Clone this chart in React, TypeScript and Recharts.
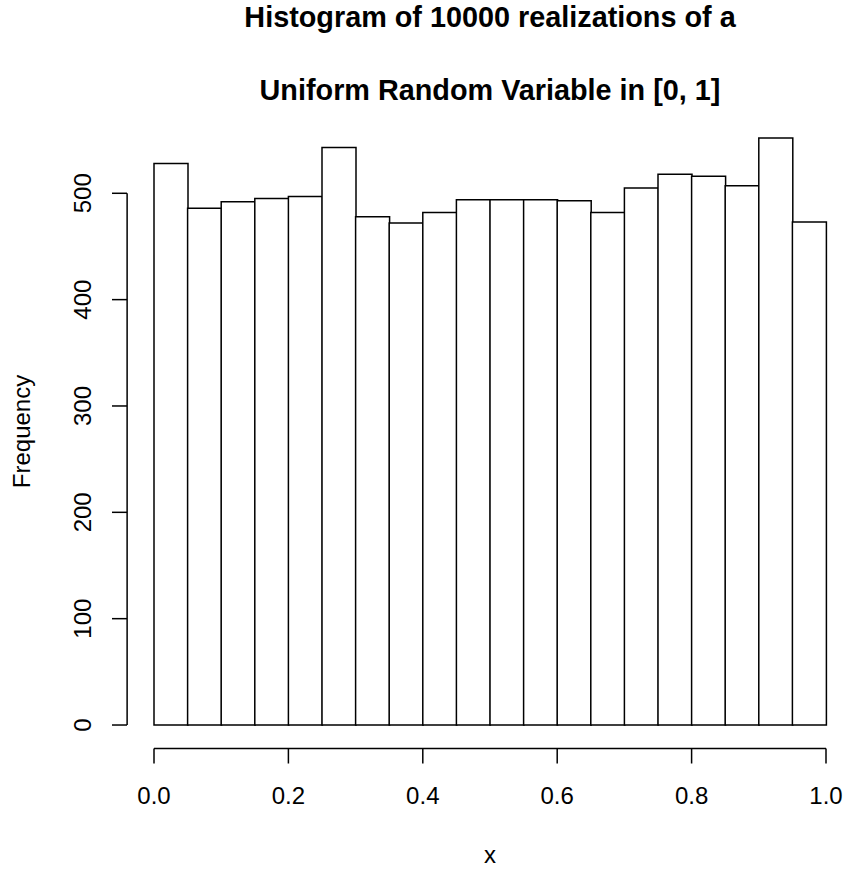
import React from 'react';
import { BarChart, Bar, XAxis, YAxis, ReferenceLine, Label } from 'recharts';

// ---- data ----
const binStarts = [0.0, 0.05, 0.1, 0.15, 0.2, 0.25, 0.3, 0.35, 0.4, 0.45, 0.5, 0.55, 0.6, 0.65, 0.7, 0.75, 0.8, 0.85, 0.9, 0.95];
const binWidth = 0.05;
const counts = [528, 486, 492, 495, 497, 543, 478, 472, 482, 494, 494, 494, 493, 482, 505, 518, 516, 507, 552, 473];
const xTicks = [0, 0.2, 0.4, 0.6, 0.8, 1.0];
const yTicks = [0, 100, 200, 300, 400, 500];
const titleLines = ['Histogram of 10000 realizations of a', 'Uniform Random Variable in [0, 1]'];
const xLabel = 'x';
const yLabel = 'Frequency';

const data = binStarts.map((b, i) => ({ bin: b.toFixed(2), mid: b + binWidth / 2, count: counts[i] }));

// R extends axis ranges by 4% on each side
const maxCount = Math.max(...counts);
const yMin = -0.04 * maxCount;
const yMax = 1.04 * maxCount;
const xMin = -0.04;

const FONT = '"Liberation Sans", Arial, Helvetica, sans-serif';
const W = 845;
const H = 869;

const YTick = (props: any) => {
  const { x, y, payload } = props;
  return (
    <text
      x={x}
      y={y}
      transform={`rotate(-90, ${x}, ${y})`}
      textAnchor="middle"
      fontSize={24}
      fontFamily={FONT}
      fill="#000"
    >
      {payload.value}
    </text>
  );
};

const YLabelContent = (props: any) => {
  const vb = props.viewBox || { x: 0, y: 0, width: 0, height: 0 };
  const cy = vb.y + vb.height / 2;
  const cx = 30;
  return (
    <text
      x={cx}
      y={cy}
      transform={`rotate(-90, ${cx}, ${cy})`}
      textAnchor="middle"
      fontSize={24}
      fontFamily={FONT}
      fill="#000"
    >
      {yLabel}
    </text>
  );
};

const XLabelContent = () => (
  <text x={490} y={863} textAnchor="middle" fontSize={24} fontFamily={FONT} fill="#000">
    {xLabel}
  </text>
);

export default function App() {
  return (
    <div style={{ position: 'absolute', left: 0, top: 0, width: W, height: H, background: '#fff' }}>
      <svg
        width={W}
        height={130}
        style={{ position: 'absolute', left: 0, top: 0, pointerEvents: 'none' }}
      >
        <text x={490} y={27} textAnchor="middle" fontSize={28.8} fontWeight="bold" fontFamily={FONT} fill="#000">
          {titleLines[0]}
        </text>
        <text x={490} y={100} textAnchor="middle" fontSize={28.8} fontWeight="bold" fontFamily={FONT} fill="#000">
          {titleLines[1]}
        </text>
      </svg>
      <BarChart
        width={W}
        height={H}
        data={data}
        margin={{ top: 114.5, right: 0, bottom: 10.5, left: 0 }}
        barCategoryGap={0}
        barGap={0}
      >
        <XAxis dataKey="bin" xAxisId="cat" hide height={0} padding={{ left: 27, right: 19 }} />
        <XAxis
          xAxisId="num"
          dataKey="mid"
          type="number"
          scale="linear"
          domain={[0, 1]}
          ticks={xTicks}
          padding={{ left: 27, right: 19 }}
          height={110}
          axisLine={false}
          tickSize={15}
          tickMargin={23.5}
          tickLine={{ stroke: '#000', strokeWidth: 1.5 }}
          tick={{ fontSize: 24, fontFamily: FONT, fill: '#000' }}
          tickFormatter={(v: number) => v.toFixed(1)}
          allowDataOverflow
        >
          <Label content={<XLabelContent />} />
        </XAxis>
        <YAxis
          type="number"
          domain={[yMin, yMax]}
          ticks={yTicks}
          width={127}
          axisLine={false}
          tickSize={15}
          tickMargin={21}
          tickLine={{ stroke: '#000', strokeWidth: 1.5 }}
          tick={<YTick />}
          allowDataOverflow
        >
          <Label content={<YLabelContent />} />
        </YAxis>
        <Bar
          dataKey="count"
          xAxisId="cat"
          fill="#fff"
          stroke="#000"
          strokeWidth={1.5}
          isAnimationActive={false}
        />
        <ReferenceLine
          xAxisId="num"
          segment={[{ x: xMin, y: 0 }, { x: xMin, y: 500 }]}
          stroke="#000"
          strokeWidth={1.5}
          ifOverflow="visible"
        />
        <ReferenceLine
          xAxisId="num"
          segment={[{ x: 0, y: yMin }, { x: 1, y: yMin }]}
          stroke="#000"
          strokeWidth={1.5}
          ifOverflow="visible"
        />
      </BarChart>
    </div>
  );
}
